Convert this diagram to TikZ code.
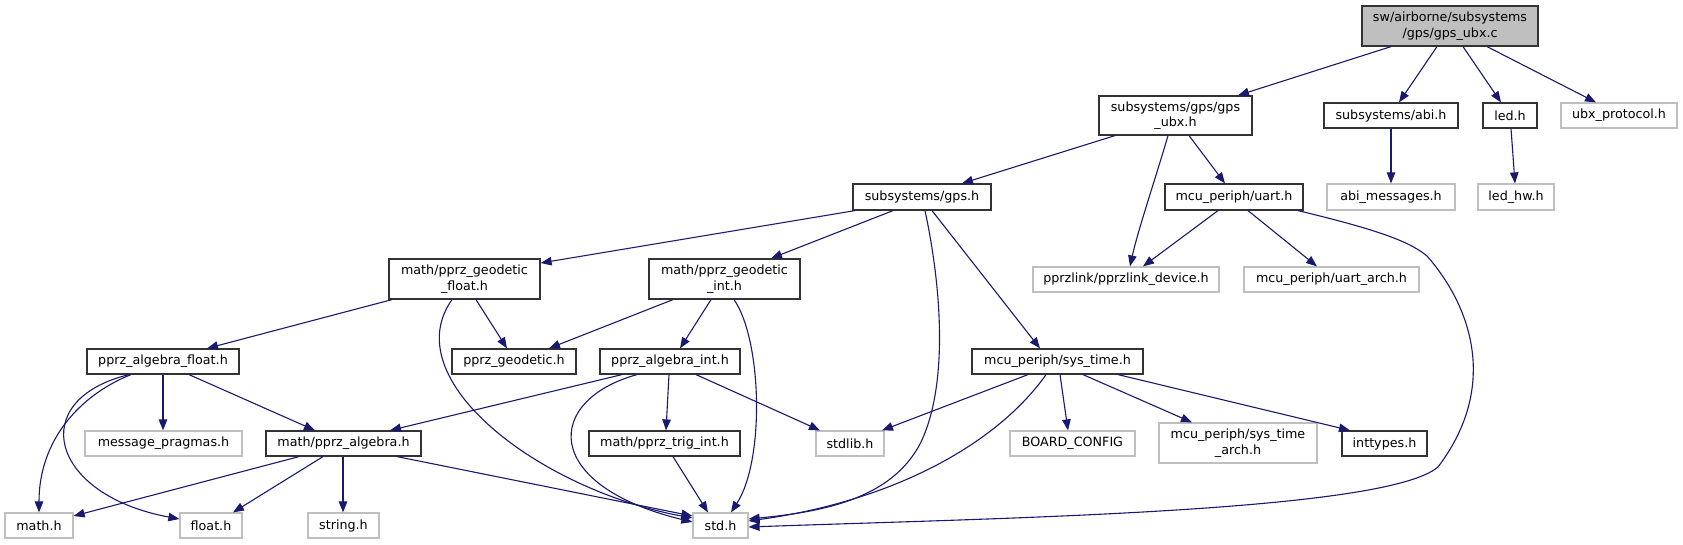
\documentclass[tikz,border=0pt]{standalone}
\usepackage{fontspec}
\setmainfont{DejaVu Sans}
\usetikzlibrary{arrows.meta}
\definecolor{edgec}{HTML}{191970}
\definecolor{grayb}{HTML}{BFBFBF}
\definecolor{rootf}{HTML}{BFBFBF}
\definecolor{darkb}{HTML}{333333}
\tikzset{
  hnode/.style={draw=darkb, line width=1.2pt, inner sep=0pt, align=center, fill=white,
    font=\fontsize{12.7}{15.5}\selectfont},
  gnode/.style={hnode, draw=grayb},
  dep/.style={draw=edgec, line width=1.1pt, -{Triangle[length=11pt,width=8.5pt]}},
}
\begin{document}
\begin{tikzpicture}[x=1pt,y=-1pt]
\fill[white] (0,0) rectangle (1683,544);
\useasboundingbox (0,0) rectangle (1683,544);

% row 0
\node[hnode, fill=rootf, minimum width=176pt, minimum height=40pt] (root) at (1450,26) {sw/airborne/subsystems\\/gps/gps\_ubx.c};
% row 1
\node[hnode, minimum width=153pt, minimum height=39pt] (gpsubx) at (1175.5,115.5) {subsystems/gps/gps\\\_ubx.h};
\node[hnode, minimum width=134pt, minimum height=25pt] (abi) at (1391,115.5) {subsystems/abi.h};
\node[hnode, minimum width=54pt, minimum height=25pt] (led) at (1510,115.5) {led.h};
\node[gnode, minimum width=116pt, minimum height=25pt] (ubx) at (1619,115.5) {ubx\_protocol.h};
% row 2
\node[hnode, minimum width=138pt, minimum height=26pt] (gps) at (922,197) {subsystems/gps.h};
\node[hnode, minimum width=138pt, minimum height=26pt] (uart) at (1234,197) {mcu\_periph/uart.h};
\node[gnode, minimum width=128pt, minimum height=26pt] (abimsg) at (1391,197) {abi\_messages.h};
\node[gnode, minimum width=76pt, minimum height=26pt] (ledhw) at (1516,197) {led\_hw.h};
% row 3
\node[hnode, minimum width=151pt, minimum height=40pt] (geofloat) at (464.5,279) {math/pprz\_geodetic\\\_float.h};
\node[hnode, minimum width=151pt, minimum height=40pt] (geoint) at (724.5,279) {math/pprz\_geodetic\\\_int.h};
\node[gnode, minimum width=186pt, minimum height=25pt] (pprzlink) at (1126,279.5) {pprzlink/pprzlink\_device.h};
\node[gnode, minimum width=175pt, minimum height=25pt] (uartarch) at (1331.5,279.5) {mcu\_periph/uart\_arch.h};
% row 4
\node[hnode, minimum width=152pt, minimum height=25pt] (algfloat) at (163,361.5) {pprz\_algebra\_float.h};
\node[hnode, minimum width=124pt, minimum height=25pt] (geodetic) at (514,361.5) {pprz\_geodetic.h};
\node[hnode, minimum width=140pt, minimum height=25pt] (algint) at (670,361.5) {pprz\_algebra\_int.h};
\node[hnode, minimum width=171pt, minimum height=25pt] (systime) at (1057.5,361.5) {mcu\_periph/sys\_time.h};
% row 5
\node[gnode, minimum width=157pt, minimum height=25pt] (msgprag) at (163.5,443.5) {message\_pragmas.h};
\node[hnode, minimum width=155pt, minimum height=25pt] (alg) at (343.5,443.5) {math/pprz\_algebra.h};
\node[hnode, minimum width=151pt, minimum height=25pt] (trig) at (664.5,443.5) {math/pprz\_trig\_int.h};
\node[gnode, minimum width=68pt, minimum height=25pt] (stdlib) at (850,443.5) {stdlib.h};
\node[gnode, minimum width=125pt, minimum height=25pt] (board) at (1072.5,443.5) {BOARD\_CONFIG};
\node[gnode, minimum width=158pt, minimum height=40pt] (systimearch) at (1238,443) {mcu\_periph/sys\_time\\\_arch.h};
\node[hnode, minimum width=85pt, minimum height=25pt] (inttypes) at (1384.5,443.5) {inttypes.h};
% row 6
\node[gnode, minimum width=68pt, minimum height=25pt] (math) at (39,525.5) {math.h};
\node[gnode, minimum width=62pt, minimum height=25pt] (float) at (211,525.5) {float.h};
\node[gnode, minimum width=71pt, minimum height=25pt] (string) at (343.5,525.5) {string.h};
\node[gnode, minimum width=55pt, minimum height=25pt] (std) at (720.5,525.5) {std.h};

% edges from root
\draw[dep] (root.south -| 1391,0) -- (gpsubx.north -| 1238,0);
\draw[dep] (root.south -| 1437,0) -- (abi.north -| 1399,0);
\draw[dep] (root.south -| 1463,0) -- (led.north -| 1501,0);
\draw[dep] (root.south -| 1487,0) -- (ubx.north -| 1596,0);
\draw[dep] (abi.south) -- (abimsg.north);
\draw[dep] (led.south -| 1511,0) -- (ledhw.north -| 1515,0);
% gps_ubx.h
\draw[dep] (gpsubx.south -| 1115,0) -- (gps.north -| 962,0);
\draw[dep] (gpsubx.south -| 1168,0) .. controls (1155,180) and (1138,230) .. (pprzlink.north -| 1130,0);
\draw[dep] (gpsubx.south -| 1189,0) -- (uart.north -| 1225,0);
% uart.h
\draw[dep] (uart.south -| 1218,0) -- (pprzlink.north -| 1143,0);
\draw[dep] (uart.south -| 1248,0) -- (uartarch.north -| 1317,0);
\draw[dep] (uart.south -| 1298,0) .. controls (1370,228) and (1408,240) .. (1427,256)
  .. controls (1470,305) and (1500,385) .. (1438,467)
  .. controls (1385,512) and (1000,518) .. (std.east |- 0,527);
% gps.h
\draw[dep] (gps.south -| 855,0) -- (geofloat.east |- 0,263);
\draw[dep] (gps.south -| 893,0) -- (geoint.north -| 771,0);
\draw[dep] (gps.south -| 925,0) .. controls (942,290) and (948,385) .. (921,442)
  .. controls (892,500) and (820,512) .. (std.east |- 0,519);
\draw[dep] (gps.south -| 932,0) -- (systime.north -| 1040,0);
% geodetic float
\draw[dep] (geofloat.south -| 392,0) -- (algfloat.north -| 207,0);
\draw[dep] (geofloat.south -| 476,0) -- (geodetic.north -| 507,0);
\draw[dep] (geofloat.south -| 452,0) .. controls (395,380) and (540,490) .. (std.west |- 0,518);
% geodetic int
\draw[dep] (geoint.south -| 673,0) -- (geodetic.north -| 549,0);
\draw[dep] (geoint.south -| 711,0) -- (algint.north -| 680,0);
\draw[dep] (geoint.south -| 734,0) .. controls (762,340) and (765,460) .. (std.north -| 731,0);
% algebra float
\draw[dep] (algfloat.south -| 131,0) .. controls (80,395) and (39,440) .. (math.north -| 39,0);
\draw[dep] (algfloat.south -| 129,0) .. controls (25,400) and (50,495) .. (float.west |- 0,519);
\draw[dep] (algfloat.south -| 163,0) -- (msgprag.north -| 163,0);
\draw[dep] (algfloat.south -| 189,0) -- (alg.north -| 315,0);
% algebra int
\draw[dep] (algint.south -| 622,0) -- (alg.north -| 390,0);
\draw[dep] (algint.south -| 637,0) .. controls (545,400) and (540,485) .. (std.west |- 0,522);
\draw[dep] (algint.south -| 669,0) -- (trig.north -| 666,0);
\draw[dep] (algint.south -| 696,0) -- (stdlib.north -| 820,0);
% pprz_algebra
\draw[dep] (alg.south -| 299,0) -- (math.east |- 0,516);
\draw[dep] (alg.south -| 323,0) -- (float.north -| 233,0);
\draw[dep] (alg.south -| 343,0) -- (string.north -| 343,0);
\draw[dep] (alg.south -| 397,0) -- (std.west |- 0,516);
% trig
\draw[dep] (trig.south -| 673,0) -- (std.north -| 708,0);
% sys_time
\draw[dep] (systime.south -| 1028,0) -- (stdlib.north -| 882,0);
\draw[dep] (systime.south -| 1046,0) .. controls (1000,440) and (900,500) .. (std.east |- 0,521);
\draw[dep] (systime.south -| 1060,0) -- (board.north -| 1068,0);
\draw[dep] (systime.south -| 1083,0) -- (systimearch.north -| 1192,0);
\draw[dep] (systime.south -| 1118,0) -- (inttypes.north -| 1350,0);
\end{tikzpicture}
\end{document}
